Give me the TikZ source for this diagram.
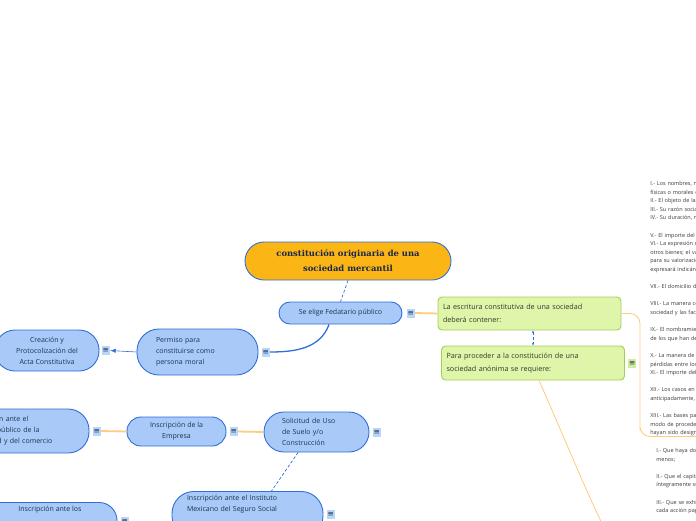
\documentclass[tikz,border=0pt]{standalone}
\usepackage{fontspec}
\setmainfont{Open Sans}
\newfontfamily\slabfont{DejaVu Serif}
\newfontfamily\symbfont{DejaVu Sans}
\usetikzlibrary{arrows.meta,positioning,calc}
\definecolor{topicfill}{HTML}{A9CAF9}
\definecolor{topicline}{HTML}{2F6FD6}
\definecolor{topicink}{HTML}{173550}
\definecolor{rootfill}{HTML}{FBB616}
\definecolor{rootink}{HTML}{1A2748}
\definecolor{notefill}{HTML}{DFF5A9}
\definecolor{noteline}{HTML}{A2CE5C}
\definecolor{noteink}{HTML}{2E3A2A}
\definecolor{linkorange}{HTML}{FFCB7E}
\definecolor{iconblue}{HTML}{BAD5FA}
\definecolor{icongreen}{HTML}{D2EC9F}
\definecolor{articleink}{HTML}{3A3A3A}

\begin{document}
\begin{tikzpicture}[
    x=1pt, y=-1pt,
    node distance=3pt,
    >=Latex,
    line width=0.6pt,
    every node/.style={font=\fontsize{7}{11}\selectfont, text=topicink},
    topic/.style={
        rectangle,
        draw=topicline,
        fill=topicfill,
        line width=0.9pt,
        align=center,
        inner sep=4pt
    },
    centre/.style={
        topic,
        fill=rootfill,
        minimum width=206pt,
        minimum height=38pt,
        rounded corners=19pt,
        text=rootink,
        font=\slabfont\bfseries\fontsize{8.4}{15}\selectfont
    },
    note/.style={
        rectangle,
        rounded corners=4pt,
        draw=noteline,
        fill=notefill,
        line width=0.9pt,
        align=left,
        text width=173pt,
        minimum height=33pt,
        inner xsep=5pt,
        text=noteink,
        font=\fontsize{7.2}{13}\selectfont
    },
    icon/.style={
        rectangle,
        fill=iconblue,
        minimum width=8pt,
        minimum height=9pt,
        inner sep=0pt,
        font=\symbfont\fontsize{7.5}{7.5}\selectfont
    },
    article/.style={
        anchor=north west,
        align=left,
        text width=260pt,
        inner sep=0pt,
        text=articleink,
        font=\fontsize{5.5}{8.6}\selectfont
    },
    link/.style={draw=linkorange, line width=0.8pt},
    rel/.style={draw=topicline, dash pattern=on 3pt off 2pt, line width=0.7pt},
    branch/.style={draw=topicline, line width=1.3pt}
]
\useasboundingbox (0,0) rectangle (696,520);
\clip (0,0) rectangle (696,520);

\node[centre] (root) at (348,261) {constitución originaria de una\\sociedad mercantil};
\node[topic, minimum width=123pt, minimum height=22pt, rounded corners=11pt] (fedatario) at (340.5,313) {Se elige Fedatario público};
\node[icon, right=4pt of fedatario] (fedatarioicon) {≡};

\node[note] (escritura) at (529.5,313.5) {La escritura constitutiva de una sociedad\\deberá contener:};
\node[note, minimum height=34pt] (anonima) at (533,363) {Para proceder a la constitución de una\\sociedad anónima se requiere:};
\node[icon, fill=icongreen, right=3pt of anonima] (anonimaicon) {≡};

\node[article] (contenido) at (650,181) {I.- Los nombres, nacionalidad y domicilio de las personas\\físicas o morales que constituyan la sociedad;\\II.- El objeto de la sociedad;\\III.- Su razón social o denominación;\\IV.- Su duración, misma que podrá ser indefinida;\\[8.6pt]V.- El importe del capital social;\\VI.- La expresión de lo que cada socio aporte en dinero o en\\otros bienes; el valor atribuido a éstos y el criterio seguido\\para su valorización. Cuando el capital sea variable, así se\\expresará indicándose el mínimo que se fije;\\[8.6pt]VII.- El domicilio de la sociedad;\\[8.6pt]VIII.- La manera conforme a la cual haya de administrarse la\\sociedad y las facultades de los administradores;\\[8.6pt]IX.- El nombramiento de los administradores y la designación\\de los que han de llevar la firma social;\\[8.6pt]X.- La manera de hacer la distribución de las utilidades y\\pérdidas entre los miembros de la sociedad;\\XI.- El importe del fondo de reserva;\\[8.6pt]XII.- Los casos en que la sociedad haya de disolverse\\anticipadamente, y\\[8.6pt]XIII.- Las bases para practicar la liquidación de la sociedad y el\\modo de proceder a la elección de los liquidadores, cuando no\\hayan sido designados anticipadamente.};
\node[article] (requisitos) at (656,448) {I.- Que haya dos socios como mínimo, y que cada uno de ellos suscriba una acción por lo\\menos;\\[8.6pt]II.- Que el capital social no sea menor de cincuenta mil pesos y que esté\\íntegramente suscrito;\\[8.6pt]III.- Que se exhiba en dinero efectivo, cuando menos el veinte por ciento del valor de\\cada acción pagadera en numerario;};
\coordinate (requisitosend) at (628,575);

\node[topic, minimum width=121pt, minimum height=46pt, rounded corners=22pt, text width=83pt, align=left] (permiso) at (197.5,352) {Permiso para\\constituirse como\\persona moral};
\node[icon, right=3pt of permiso] (permisoicon) {≡};
\node[topic, minimum width=104pt, minimum height=41pt, rounded corners=20pt] (creacion) at (47,350.5) {Creación y\\Protocolización del\\Acta Constitutiva};
\node[icon, right=2pt of creacion] (creacionicon) {≡};

\node[topic, minimum width=105pt, minimum height=40pt, rounded corners=20pt, text width=69pt, align=left] (suelo) at (316.5,432) {Solicitud de Uso\\de Suelo y/o\\Construcción};
\node[icon, right=3pt of suelo] (sueloicon) {≡};
\node[topic, minimum width=99pt, minimum height=29pt, rounded corners=14pt] (empresa) at (176.5,431.5) {Inscripción de la\\Empresa};
\node[icon, right=3pt of empresa] (empresaicon) {≡};
\node[topic, minimum width=149pt, minimum height=44pt, rounded corners=21pt, text width=93pt, align=left] (registro) at (14.5,431) {Inscripción ante el\\Registro público de la\\propiedad y del comercio};
\node[icon, right=3pt of registro] (registroicon) {≡};

\node[topic, anchor=north, minimum width=151pt, rounded corners=22pt, text width=121pt, align=left, text depth=33pt] (imss) at (247.5,491) {Inscripción ante el Instituto\\Mexicano del Seguro Social};
\node[icon, right=3pt of imss] (imssicon) {≡};
\node[topic, anchor=north, minimum width=134pt, rounded corners=18pt, text depth=24pt] (ahorro) at (50,502) {Inscripción ante los};
\node[icon, right=3pt of ahorro] (ahorroicon) {≡};

\draw[rel] (root.south) -- (fedatario.north);
\draw[link, line width=1.8pt] (fedatarioicon.east) -- (escritura.west);
\draw[rel, {Stealth[length=3pt]}-{Stealth[length=3pt]}] (anonima.north |- escritura.south) -- (anonima.north);
\draw[link, rounded corners=10pt] (escritura.east) -| ([xshift=-10pt]contenido.south west) |- (contenido.south east);
\draw[link] ($(anonima.south)+(6,0)$) to[out=-66, in=118] (requisitosend);
\draw[branch] (fedatario.-135) to[out=-110, in=0] (permisoicon.east);
\draw[->, draw=topicline] (permiso.west) -- (creacionicon.east);
\draw[link, line width=1.8pt] (suelo.west) -- (empresaicon.east);
\draw[link, line width=1.8pt] (empresa.west) -- (registroicon.east);
\draw[rel] (suelo.-132) -- ($(imss.north)+(24,0)$);

\end{tikzpicture}
\end{document}
